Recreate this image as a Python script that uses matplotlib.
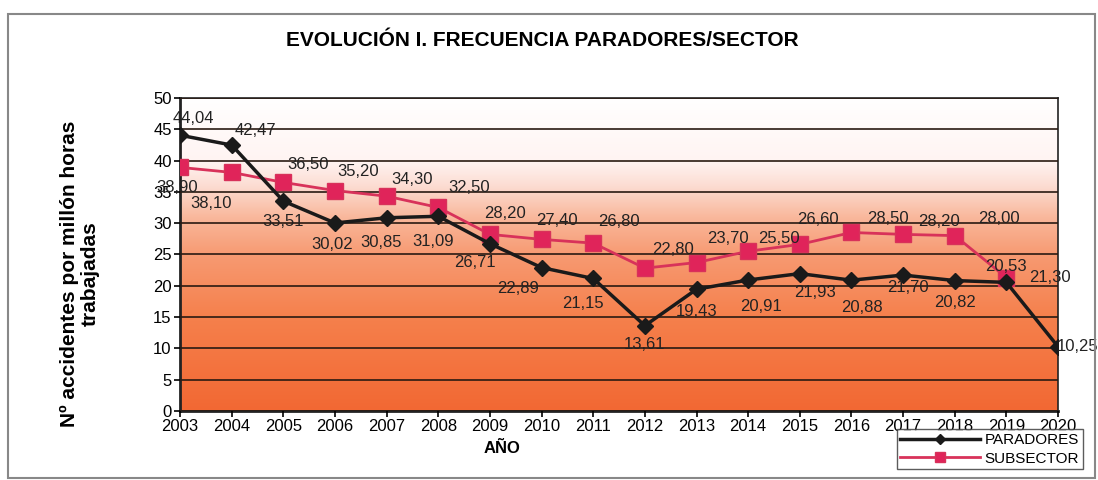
import matplotlib.pyplot as plt
import numpy as np
from matplotlib.colors import LinearSegmentedColormap
from matplotlib.patches import Rectangle

plt.rcParams['font.family'] = ['Liberation Sans', 'DejaVu Sans']

# datos
anios = list(range(2003, 2021))
paradores = [44.04, 42.47, 33.51, 30.02, 30.85, 31.09, 26.71, 22.89, 21.15,
             13.61, 19.43, 20.91, 21.93, 20.88, 21.70, 20.82, 20.53, 10.25]
anios_sub = list(range(2003, 2020))
subsector = [38.90, 38.10, 36.50, 35.20, 34.30, 32.50, 28.20, 27.40, 26.80,
             22.80, 23.70, 25.50, 26.60, 28.50, 28.20, 28.00, 21.30]

# desplazamiento de las etiquetas (años, unidades)
off_par = [(0.25, 2.7), (0.45, 2.3), (0, -3.2), (-0.05, -3.5), (-0.1, -3.9),
           (-0.1, -4.0), (-0.3, -3.0), (-0.45, -3.4), (-0.2, -4.0), (0, -3.0),
           (0, -3.5), (0.25, -4.3), (0.3, -3.0), (0.2, -4.4), (0.1, -2.0),
           (0, -3.5), (0, 2.5), (0.37, 0)]
off_sub = [(-0.05, -3.2), (-0.4, -5.0), (0.48, 2.8), (0.45, 3.0), (0.5, 2.7),
           (0.6, 3.2), (0.3, 3.4), (0.3, 3.0), (0.5, 3.5), (0.55, 3.0),
           (0.6, 3.8), (0.6, 2.0), (0.35, 3.9), (0.7, 2.2), (0.7, 2.1),
           (0.85, 2.7), (0.85, 0)]

fig = plt.figure(figsize=(10.98, 4.8), dpi=100)
ax = fig.add_axes([0.164, 0.144, 0.7996, 0.652])

# fondo degradado
cmap = LinearSegmentedColormap.from_list('fondo', [
    (0.0, '#f26833'), (0.3, '#f5804c'), (0.5, '#f79a72'),
    (0.62, '#f9b89c'), (0.72, '#fcdcd2'), (0.8, '#fff4f2'), (1.0, '#ffffff')])
grad = np.linspace(0, 1, 256).reshape(-1, 1)
ax.imshow(grad, cmap=cmap, origin='lower', aspect='auto',
          extent=[2003, 2020, 0, 50], zorder=0)

ax.set_xlim(2003, 2020)
ax.set_ylim(0, 50)
ax.set_xticks(anios)
ax.set_yticks(range(0, 51, 5))
ax.tick_params(labelsize=12, length=4, width=1.2, pad=2)
ax.yaxis.grid(True, color='#2a1a12', linewidth=1.2)
ax.set_axisbelow(False)
for s in ax.spines.values():
    s.set_color('#222222')
    s.set_linewidth(1.2)
ax.spines['left'].set_linewidth(2)
ax.spines['bottom'].set_linewidth(2)

ax.plot(anios, paradores, color='#1a1a1a', lw=2.5, marker='D', ms=8,
        label='PARADORES', zorder=4)
ax.plot(anios_sub, subsector, color='#d8325a', lw=2, marker='s', ms=11,
        markerfacecolor='#e0245a', markeredgecolor='#d8325a',
        label='SUBSECTOR', zorder=3)

for x, y, (dx, dy) in zip(anios, paradores, off_par):
    ax.text(x + dx, y + dy, f'{y:.2f}'.replace('.', ','), ha='center',
            va='center', fontsize=12, color='#222222', zorder=5, clip_on=False)
for x, y, (dx, dy) in zip(anios_sub, subsector, off_sub):
    ax.text(x + dx, y + dy, f'{y:.2f}'.replace('.', ','), ha='center',
            va='center', fontsize=12, color='#222222', zorder=5, clip_on=False)

fig.text(0.494, 0.915, 'EVOLUCIÓN I. FRECUENCIA PARADORES/SECTOR',
         ha='center', va='center', fontsize=15, fontweight='bold')
fig.text(0.073, 0.43, 'Nº accidentes por millón horas\ntrabajadas', rotation=90,
         ha='center', va='center', fontsize=15, fontweight='bold',
         linespacing=1.1)
fig.text(0.457, 0.065, 'AÑO', ha='center', va='center', fontsize=12,
         fontweight='bold')

fig.legend(loc='lower right', bbox_to_anchor=(0.993, 0.006), fontsize=11,
           frameon=True, fancybox=False, edgecolor='#333333',
           handlelength=5.2, markerscale=0.7, borderpad=0.25,
           labelspacing=0.3, handletextpad=0.3)

# marco exterior
fig.patches.append(Rectangle((0.007, 0.004), 0.99, 0.966,
                             transform=fig.transFigure, fill=False,
                             edgecolor='#888888', lw=1.5))

fig.savefig('out.png', dpi=100)
